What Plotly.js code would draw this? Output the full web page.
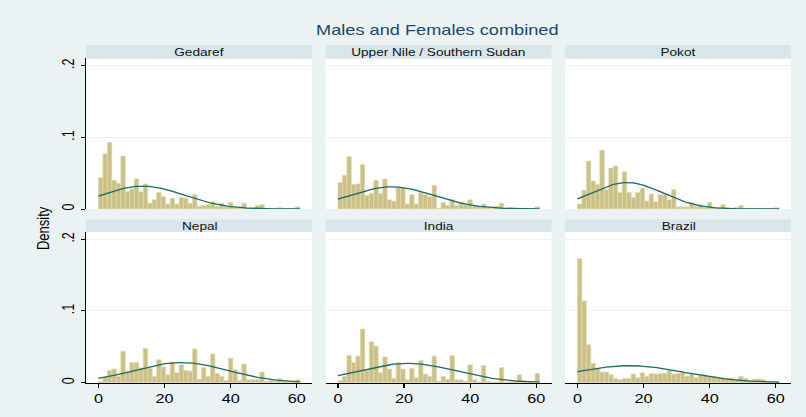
<!DOCTYPE html>
<html><head><meta charset="utf-8">
<script src="https://cdn.plot.ly/plotly-3.0.1.min.js"></script>
<style>
html,body{margin:0;padding:0;background:rgb(234,242,243);overflow:hidden;}
#chart{width:620px;height:417px;transform:scaleX(1.3);transform-origin:0 0;}
</style></head><body><div id="chart"></div>
<script>
// ---- data ----
const panelNames = ["Gedaref", "Upper Nile / Southern Sudan", "Pokot", "Nepal", "India", "Brazil"];
const binStart = 0;
const binWidth = 61 / 45;
const gedaref   = [0.044,0.077,0.093,0.040,0.036,0.074,0.024,0.028,0.042,0.024,0.035,0.008,0.013,0.023,0.017,0.007,0.015,0.007,0.016,0.015,0.008,0.020,0.004,0.005,0.006,0.010,0.004,0.008,0.003,0.009,0.002,0.002,0.008,0.002,0.002,0.005,0.006,0.001,0.001,0.001,0.002,0.001,0.001,0.001,0.003];
const upperNile = [0.037,0.047,0.073,0.034,0.035,0.062,0.019,0.022,0.040,0.022,0.042,0.013,0.011,0.030,0.030,0.007,0.020,0.007,0.023,0.020,0.017,0.033,0.001,0.009,0.005,0.013,0.005,0.010,0.006,0.013,0.004,0.003,0.007,0.002,0.001,0.004,0.008,0.001,0.002,0.001,0.001,0.001,0.001,0.001,0.003];
const pokot     = [0.007,0.026,0.067,0.039,0.034,0.082,0.027,0.057,0.060,0.023,0.052,0.023,0.016,0.023,0.029,0.011,0.021,0.010,0.020,0.020,0.013,0.027,0.003,0.003,0.003,0.009,0.004,0.006,0.002,0.009,0.002,0.002,0.006,0.001,0.001,0.002,0.005,0.001,0.001,0.001,0.001,0.001,0.001,0.001,0.002];
const nepal     = [0.002,0.008,0.017,0.019,0.009,0.044,0.015,0.028,0.028,0.021,0.048,0.020,0.009,0.032,0.022,0.011,0.029,0.014,0.025,0.017,0.016,0.047,0.005,0.021,0.009,0.040,0.013,0.009,0.003,0.034,0.018,0.003,0.026,0.004,0.004,0.004,0.015,0.002,0.003,0.002,0.006,0.002,0.001,0.001,0.004];
const india     = [0.003,0.009,0.038,0.028,0.037,0.075,0.017,0.057,0.051,0.014,0.036,0.019,0.006,0.028,0.019,0.004,0.020,0.007,0.031,0.012,0.009,0.037,0.002,0.009,0.005,0.038,0.004,0.004,0.002,0.025,0.004,0.001,0.024,0.002,0.001,0.001,0.021,0.001,0.001,0.001,0.011,0.001,0.001,0.001,0.013];
const brazil    = [0.173,0.114,0.053,0.027,0.020,0.015,0.015,0.011,0.006,0.004,0.006,0.006,0.012,0.007,0.014,0.009,0.013,0.012,0.013,0.013,0.017,0.012,0.013,0.014,0.009,0.012,0.007,0.011,0.011,0.009,0.009,0.007,0.007,0.006,0.006,0.004,0.009,0.006,0.003,0.005,0.005,0.004,0.001,0.002,0.001];
// normal-density overlay parameters (mean, sd) per panel
const normMean = [13.4, 16.3, 15.0, 25.0, 21.0, 15.7];
const normSD   = [12.5, 12.9, 10.8, 14.2, 14.8, 16.8];
const normFrom = 0, normTo = 61;
const xTickVals = [0, 20, 40, 60];
const xTickText = ["0", "20", "40", "60"];
const yTickVals = [0, 0.1, 0.2];
const yTickText = ["0", ".1", ".2"];
const chartTitle = "Males and Females combined";
const yTitle = "Density";

// ---- build ----
const series = [gedaref, upperNile, pokot, nepal, india, brazil];
const FONT = "Liberation Sans, Arial, sans-serif";
const W = 806, H = 417;
const colX = [[86, 312], [325.5, 551.5], [565, 791]];
const rowY = [[58.4, 209], [232.1, 382.7]];
const stripY = [[45, 58.4], [219.3, 232.1]];

const traces = [];
const layout = {
  width: 620, height: H,
  margin: {l: 0, r: 0, t: 0, b: 0},
  paper_bgcolor: "rgb(234,242,243)",
  plot_bgcolor: "#ffffff",
  showlegend: false,
  bargap: 0,
  font: {family: FONT, color: "#000"},
  shapes: [], annotations: []
};

series.forEach((vals, k) => {
  const r = Math.floor(k / 3), c = k % 3;
  const sfx = k === 0 ? "" : String(k + 1);
  const xs = vals.map((_, i) => binStart + binWidth * (i + 0.5));
  traces.push({
    type: "bar", x: xs, y: vals, width: binWidth,
    xaxis: "x" + sfx, yaxis: "y" + sfx,
    marker: {color: "rgb(203,193,134)", line: {color: "rgb(226,219,178)", width: 0.6}},
    hoverinfo: "skip"
  });
  const nx = [], ny = [];
  for (let t = 0; t <= 200; t++) {
    const x = normFrom + (normTo - normFrom) * t / 200;
    const z = (x - normMean[k]) / normSD[k];
    nx.push(x);
    ny.push(Math.exp(-0.5 * z * z) / (normSD[k] * Math.sqrt(2 * Math.PI)));
  }
  traces.push({
    type: "scatter", mode: "lines", x: nx, y: ny,
    xaxis: "x" + sfx, yaxis: "y" + sfx,
    line: {color: "#1f6b68", width: 1.3}, hoverinfo: "skip"
  });
  layout["xaxis" + sfx] = {
    domain: [colX[c][0] / W, colX[c][1] / W],
    range: [-3.75, 64.6], anchor: "y" + sfx,
    showgrid: false, zeroline: false,
    showline: r === 1, linecolor: "#000", linewidth: 1,
    ticks: r === 1 ? "outside" : "", ticklen: 4, tickcolor: "#000", tickwidth: 1,
    tickvals: xTickVals, ticktext: xTickText,
    showticklabels: r === 1,
    tickfont: {family: FONT, size: 12.5, color: "#000"},
    fixedrange: true
  };
  layout["yaxis" + sfx] = {
    domain: [1 - rowY[r][1] / H, 1 - rowY[r][0] / H],
    range: [0, 0.21], anchor: "x" + sfx,
    showgrid: true, gridcolor: "rgb(234,242,243)", gridwidth: 1,
    zeroline: false,
    showline: c === 0, linecolor: "#000", linewidth: 1,
    ticks: c === 0 ? "outside" : "", ticklen: 3, tickcolor: "#000", tickwidth: 1,
    tickvals: yTickVals, ticktext: yTickText,
    showticklabels: c === 0, tickangle: -90,
    tickfont: {family: FONT, size: 12.5, color: "#000"},
    fixedrange: true
  };
  // strip header
  layout.shapes.push({
    type: "rect", xref: "paper", yref: "paper", layer: "below",
    x0: colX[c][0] / W, x1: colX[c][1] / W,
    y0: 1 - stripY[r][1] / H, y1: 1 - stripY[r][0] / H,
    fillcolor: "rgb(217,230,235)", line: {width: 0}
  });
  layout.annotations.push({
    xref: "paper", yref: "paper",
    x: (colX[c][0] + colX[c][1]) / 2 / W,
    y: 1 - (stripY[r][0] + stripY[r][1]) / 2 / H,
    xanchor: "center", yanchor: "middle", showarrow: false,
    text: panelNames[k], font: {family: FONT, size: 10.5, color: "#111"}
  });
});

layout.annotations.push({
  xref: "paper", yref: "paper", x: 438 / W, y: 1 - 30.5 / H,
  xanchor: "center", yanchor: "middle", showarrow: false,
  text: chartTitle, font: {family: FONT, size: 14, color: "#1a476f"}
});
layout.annotations.push({
  xref: "paper", yref: "paper", x: 43 / W, y: 1 - 228 / H,
  xanchor: "center", yanchor: "middle", showarrow: false, textangle: -90,
  text: yTitle, font: {family: FONT, size: 13, color: "#000"}
});

Plotly.newPlot("chart", traces, layout, {staticPlot: true, displayModeBar: false});
</script></body></html>
